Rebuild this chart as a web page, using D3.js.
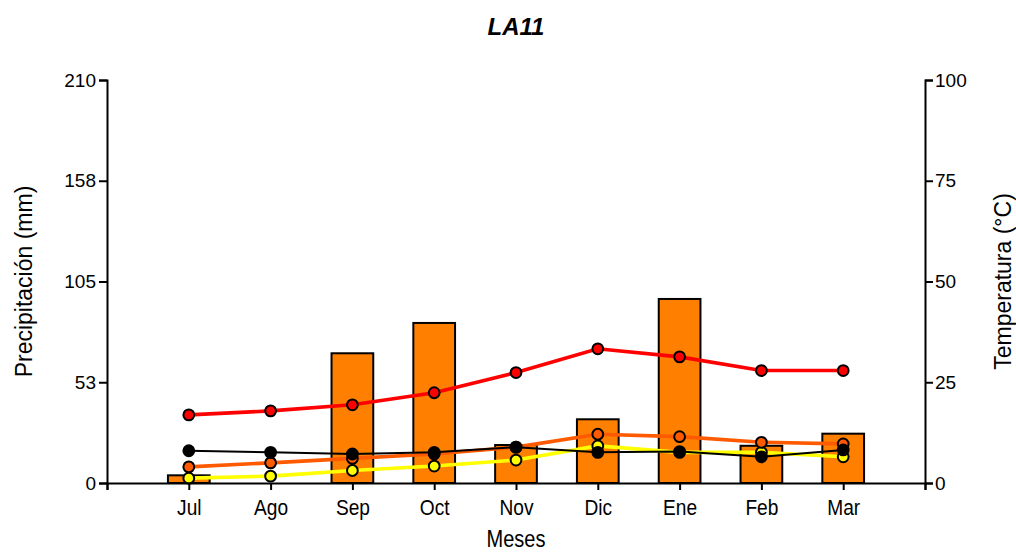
<!DOCTYPE html>
<html>
<head>
<meta charset="utf-8">
<script src="https://cdn.jsdelivr.net/npm/d3@7"></script>
<style>
  body { margin: 0; background: #fff; }
  text { font-family: "Liberation Sans", Arial, sans-serif; }
</style>
</head>
<body>
<svg id="chart" width="1016" height="553"></svg>
<script>
const months = ["Jul", "Ago", "Sep", "Oct", "Nov", "Dic", "Ene", "Feb", "Mar"];
const precip = [4, 0, 67.6, 83.4, 19.8, 33.2, 95.9, 19.4, 25.7];
const tMax = [16.9, 17.9, 19.4, 22.4, 27.4, 33.3, 31.3, 27.9, 27.9];
const tMean = [4.0, 5.0, 6.1, 7.2, 8.9, 12.1, 11.5, 10.1, 9.7];
const tMin = [1.2, 1.7, 3.1, 4.2, 5.7, 9.2, 7.6, 7.6, 6.5];
const tOther = [8.0, 7.6, 7.2, 7.6, 8.9, 7.6, 7.8, 6.5, 8.2];
const precipTicks = [0, 52.5, 105, 157.5, 210];
const tempTicks = [0, 25, 50, 75, 100];

const width = 1016;
const height = 553;
const margin = { top: 80, right: 91, bottom: 70, left: 107 };

const svg = d3.select("#chart");
const innerW = width - margin.left - margin.right;
const innerH = height - margin.top - margin.bottom;

const g = svg.append("g")
    .attr("transform", "translate(" + margin.left + "," + margin.top + ")");

// x: 10 slots, months sit on slots 1..9
var x = d3.scaleLinear().domain([0, 10]).range([0, innerW]);
var yP = d3.scaleLinear().domain([0, 210]).range([innerH, 0]);
var yT = d3.scaleLinear().domain([0, 100]).range([innerH, 0]);

var slot = x(1) - x(0);
var barW = slot * 0.51;

// bars
g.selectAll("rect.bar")
    .data(precip)
    .enter()
    .append("rect")
    .attr("class", "bar")
    .attr("x", function(d, i) { return x(i + 1) - barW / 2; })
    .attr("y", function(d) { return yP(d); })
    .attr("width", barW)
    .attr("height", function(d) { return innerH - yP(d); })
    .attr("fill", "#ff8000")
    .attr("stroke", "#000")
    .attr("stroke-width", function(d) { return d > 0 ? 2 : 0; });

var line = d3.line()
    .x(function(d, i) { return x(i + 1); })
    .y(function(d) { return yT(d); });

var series = [
    { values: tMin, color: "#ffff00", lw: 3.6 },
    { values: tMean, color: "#ff5a00", lw: 3.6 },
    { values: tMax, color: "#ff0000", lw: 3.6 },
    { values: tOther, color: "#000000", lw: 2 }
];

series.forEach(function(s) {
    g.append("path")
        .datum(s.values)
        .attr("d", line)
        .attr("fill", "none")
        .attr("stroke", s.color)
        .attr("stroke-width", s.lw);
});

series.forEach(function(s) {
    g.selectAll(null)
        .data(s.values)
        .enter()
        .append("circle")
        .attr("cx", function(d, i) { return x(i + 1); })
        .attr("cy", function(d) { return yT(d); })
        .attr("r", 5.4)
        .attr("fill", s.color)
        .attr("stroke", "#000")
        .attr("stroke-width", 2);
});

// axes
var xAxis = d3.axisBottom(x)
    .tickValues(d3.range(0, 11))
    .tickSize(7)
    .tickFormat(function(d) { return (d >= 1 && d <= 9) ? months[d - 1] : ""; });

var gx = g.append("g")
    .attr("transform", "translate(0," + innerH + ")")
    .call(xAxis);
gx.selectAll("text")
    .attr("dy", "1.0em")
    .attr("transform", "scale(0.87,1)")
    .style("font-size", "22px")
    .attr("fill", "#000");

var gl = g.append("g")
    .call(d3.axisLeft(yP)
        .tickValues(precipTicks)
        .tickSize(8)
        .tickPadding(3)
        .tickFormat(d3.format(".0f")));
gl.selectAll("text").style("font-size", "19px").attr("fill", "#000");

var gr = g.append("g")
    .attr("transform", "translate(" + innerW + ",0)")
    .call(d3.axisRight(yT)
        .tickValues(tempTicks)
        .tickSize(8)
        .tickPadding(2));
gr.selectAll("text").style("font-size", "19px").attr("fill", "#000");

[gx, gl, gr].forEach(function(a) {
    a.select(".domain").attr("stroke", "#000").attr("stroke-width", 2);
    a.selectAll(".tick line").attr("stroke", "#000").attr("stroke-width", 2);
});

// titles
svg.append("text")
    .attr("x", margin.left + innerW / 2)
    .attr("y", 35)
    .attr("text-anchor", "middle")
    .style("font-size", "24px")
    .style("font-weight", "bold")
    .style("font-style", "italic")
    .text("LA11");

svg.append("text")
    .attr("transform", "translate(" + (margin.left + innerW / 2) + ",547) scale(0.87,1)")
    .attr("text-anchor", "middle")
    .style("font-size", "23px")
    .text("Meses");

svg.append("text")
    .attr("transform", "translate(32," + (margin.top + innerH / 2) + ") rotate(-90)")
    .attr("text-anchor", "middle")
    .style("font-size", "23px")
    .text("Precipitación (mm)");

svg.append("text")
    .attr("transform", "translate(1011," + (margin.top + innerH / 2) + ") rotate(-90)")
    .attr("text-anchor", "middle")
    .style("font-size", "23px")
    .text("Temperatura (°C)");
</script>
</body>
</html>
